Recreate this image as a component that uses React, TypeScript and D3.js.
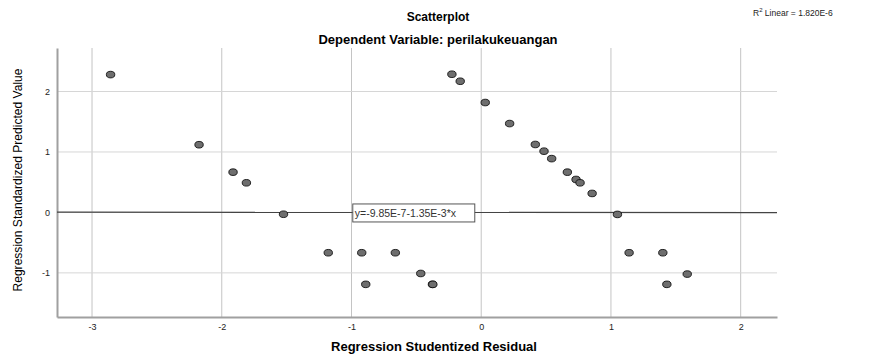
import React, { useEffect, useRef } from 'react';
import * as d3 from 'd3';

// studentized residual (x) vs standardized predicted value (y)
const residuals = [
  -2.857, -2.175, -1.913, -1.81, -1.524, -1.179, -0.921, -0.89, -0.662, -0.466,
  -0.376, -0.373, -0.226, -0.162, 0.031, 0.219, 0.417, 0.484, 0.543, 0.664,
  0.731, 0.762, 0.855, 1.05, 1.14, 1.4, 1.588, 1.431,
];
const predicted = [
  2.28, 1.12, 0.666, 0.49, -0.03, -0.667, -0.667, -1.19, -0.667, -1.01,
  -1.19, -1.19, 2.286, 2.17, 1.818, 1.47, 1.124, 1.013, 0.89, 0.666,
  0.545, 0.49, 0.314, -0.033, -0.667, -0.667, -1.02, -1.19,
];
const xTicks = [-3, -2, -1, 0, 1, 2];
const yTicks = [-1, 0, 1, 2];
const intercept = -9.85e-7;
const slope = -1.35e-3;

const W = 883;
const H = 354;
const margin = { top: 48, right: 106, bottom: 37, left: 57 };

const App = () => {
  const ref = useRef<SVGSVGElement>(null);

  useEffect(() => {
    const svg = d3.select(ref.current);
    svg.selectAll('*').remove();
    svg.style('font-family', '"Liberation Sans", Arial, sans-serif');

    const x = d3.scaleLinear().domain([-3.27, 2.28]).range([margin.left, W - margin.right]);
    const y = d3.scaleLinear().domain([-1.73, 2.72]).range([H - margin.bottom, margin.top]);

    // grid
    svg.append('g')
      .selectAll('line')
      .data(xTicks)
      .join('line')
      .attr('x1', d => x(d)).attr('x2', d => x(d))
      .attr('y1', margin.top).attr('y2', H - margin.bottom)
      .attr('stroke', '#c4c4c4').attr('stroke-width', 1);
    svg.append('g')
      .selectAll('line')
      .data(yTicks)
      .join('line')
      .attr('x1', margin.left).attr('x2', W - margin.right)
      .attr('y1', d => y(d)).attr('y2', d => y(d))
      .attr('stroke', '#d6d6d6').attr('stroke-width', 1);

    const fmt = (d: d3.NumberValue) => String(d);

    // axes
    const xAxis = d3.axisBottom(x).tickValues(xTicks).tickSize(0).tickPadding(7).tickFormat(fmt);
    svg.append('g')
      .attr('transform', `translate(0, ${H - margin.bottom})`)
      .call(xAxis)
      .call(g => g.select('.domain').attr('stroke', '#a0a0a0').attr('stroke-width', 2))
      .call(g => g.selectAll('text').attr('font-size', 9).attr('fill', '#222').attr('font-family', 'inherit'));

    const yAxis = d3.axisLeft(y).tickValues(yTicks).tickSize(0).tickPadding(7).tickFormat(fmt);
    svg.append('g')
      .attr('transform', `translate(${margin.left}, 0)`)
      .call(yAxis)
      .call(g => g.select('.domain').attr('stroke', '#a0a0a0').attr('stroke-width', 2))
      .call(g => g.selectAll('text').attr('font-size', 9).attr('fill', '#222').attr('font-family', 'inherit'));

    // fit line
    svg.append('line')
      .attr('x1', x(-3.27)).attr('x2', x(2.28))
      .attr('y1', y(intercept + slope * -3.27)).attr('y2', y(intercept + slope * 2.28))
      .attr('stroke', '#444').attr('stroke-width', 1.2);

    // points
    svg.append('g')
      .selectAll('ellipse')
      .data(residuals.map((r, i) => [r, predicted[i]]))
      .join('ellipse')
      .attr('cx', d => x(d[0]))
      .attr('cy', d => y(d[1]))
      .attr('rx', 4.2).attr('ry', 3.3)
      .attr('fill', '#6e6e6e')
      .attr('stroke', '#111').attr('stroke-width', 0.9);

    // equation label
    const lx = x(-0.99);
    const ly = y(0.14);
    svg.append('rect')
      .attr('x', lx).attr('y', ly)
      .attr('width', 122).attr('height', 18)
      .attr('fill', 'white').attr('stroke', '#555').attr('stroke-width', 1);
    svg.append('text')
      .attr('x', lx + 2).attr('y', ly + 13)
      .attr('font-size', 10.5).attr('fill', '#333')
      .text('y=-9.85E-7-1.35E-3*x');

    // titles
    svg.append('text')
      .attr('x', 438).attr('y', 21)
      .attr('text-anchor', 'middle')
      .attr('font-size', 12).attr('font-weight', 'bold')
      .text('Scatterplot');
    svg.append('text')
      .attr('x', 438).attr('y', 44)
      .attr('text-anchor', 'middle')
      .attr('font-size', 13).attr('font-weight', 'bold')
      .text('Dependent Variable: perilakukeuangan');
    svg.append('text')
      .attr('x', 434).attr('y', 351)
      .attr('text-anchor', 'middle')
      .attr('font-size', 13).attr('font-weight', 'bold')
      .text('Regression Studentized Residual');
    svg.append('text')
      .attr('transform', 'translate(22, 180) rotate(-90)')
      .attr('text-anchor', 'middle')
      .attr('font-size', 13)
      .attr('textLength', 223)
      .attr('lengthAdjust', 'spacingAndGlyphs')
      .text('Regression Standardized Predicted Value');

    const r2 = svg.append('text')
      .attr('x', 753).attr('y', 16)
      .attr('font-size', 8.5).attr('fill', '#222');
    r2.append('tspan').text('R');
    r2.append('tspan').attr('font-size', 6).attr('dy', -4).text('2');
    r2.append('tspan').attr('dy', 4).text(' Linear = 1.820E-6');
  }, []);

  return (
    <svg
      ref={ref}
      width={W}
      height={H}
      viewBox={`0 0 ${W} ${H}`}
      style={{ position: 'absolute', left: 0, top: 0, background: 'white' }}
    />
  );
};

export default App;
